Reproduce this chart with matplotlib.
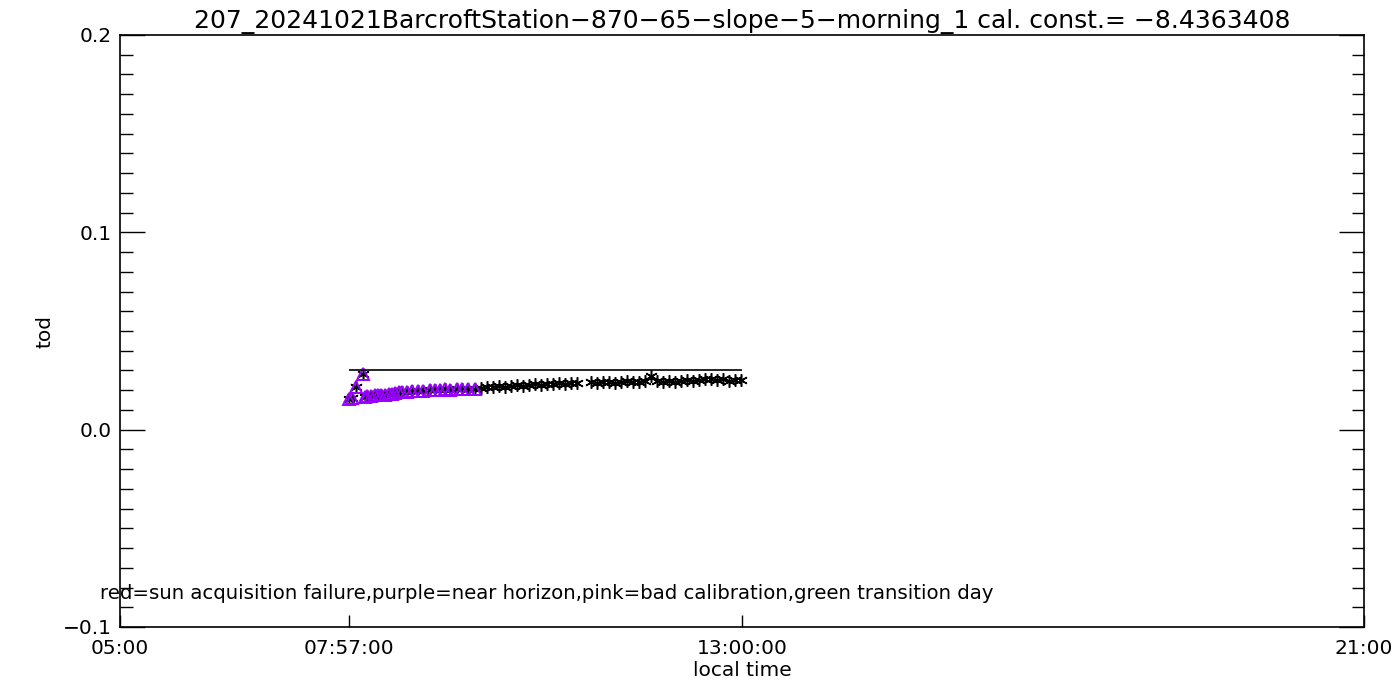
import numpy as np
import matplotlib
matplotlib.use("Agg")
import matplotlib.pyplot as plt
from matplotlib.ticker import MultipleLocator, FixedLocator

title = "207_20241021BarcroftStation\u2212870\u221265\u2212slope\u22125\u2212morning_1 cal. const.= \u22128.4363408"
note = "red=sun acquisition failure,purple=near horizon,pink=bad calibration,green transition day"

# local time in decimal hours, tod values
t_all = [7.945, 7.984, 8.035, 8.125, 8.151, 8.177, 8.228, 8.280, 8.318, 8.357,
         8.408, 8.460, 8.498, 8.537, 8.588, 8.627, 8.691, 8.756, 8.833, 8.897,
         8.987, 9.051, 9.116, 9.180, 9.244, 9.334, 9.399, 9.476, 9.566,
         9.643, 9.720, 9.797, 9.875, 9.952, 10.029, 10.106, 10.183, 10.260, 10.338,
         10.415, 10.492, 10.569, 10.646, 10.723, 10.801, 10.878,
         11.058, 11.135, 11.212, 11.289, 11.367, 11.444, 11.521, 11.598, 11.675, 11.752,
         11.830, 11.907, 11.984, 12.061, 12.138, 12.215, 12.293, 12.370, 12.447, 12.524,
         12.601, 12.678, 12.756, 12.833, 12.910, 12.987]
tod_all = [0.0157, 0.0162, 0.0218, 0.0284, 0.0167, 0.0172, 0.0172, 0.0177, 0.0177, 0.0177,
           0.0177, 0.0182, 0.0182, 0.0187, 0.0193, 0.0193, 0.0193, 0.0198, 0.0198, 0.0198,
           0.0203, 0.0203, 0.0203, 0.0208, 0.0203, 0.0208, 0.0208, 0.0208, 0.0208,
           0.0213, 0.0218, 0.0218, 0.0223, 0.0218, 0.0223, 0.0228, 0.0223, 0.0228, 0.0233,
           0.0228, 0.0233, 0.0233, 0.0236, 0.0233, 0.0236, 0.0236,
           0.0243, 0.0238, 0.0243, 0.0243, 0.0238, 0.0243, 0.0248, 0.0243, 0.0243, 0.0248,
           0.0274, 0.0248, 0.0243, 0.0248, 0.0243, 0.0248, 0.0253, 0.0248, 0.0253, 0.0258,
           0.0258, 0.0253, 0.0258, 0.0248, 0.0253, 0.0253]
n_horizon = 29  # first points flagged near horizon

ref_level = 0.03
xticks = [5.0, 7.95, 13.0, 21.0]
xticklabels = ["05:00", "07:57:00", "13:00:00", "21:00"]
yticks = [-0.1, 0.0, 0.1, 0.2]
yticklabels = ["\u22120.1", "0.0", "0.1", "0.2"]

fig = plt.figure(figsize=(14, 7), dpi=100)
ax = fig.add_axes([120 / 1400, 73 / 700, 1244 / 1400, 592 / 700])

asterisk = (6, 2, 0)
ax.plot(t_all, tod_all, ls="none", marker=asterisk, ms=9, mew=1.1, color="black")
ax.plot(t_all[:n_horizon], tod_all[:n_horizon], ls="none", marker="^", ms=8,
        mfc="none", mec="#9a00ff", mew=1.4)
ax.hlines(ref_level, t_all[0], 13.0, color="black", lw=1.2)

ax.set_xlim(5, 21)
ax.set_ylim(-0.1, 0.2)
ax.xaxis.set_major_locator(FixedLocator(xticks))
ax.set_xticklabels(xticklabels)
ax.set_yticks(yticks)
ax.set_yticklabels(yticklabels)
ax.yaxis.set_minor_locator(MultipleLocator(0.01))
ax.tick_params(axis="x", direction="in", length=9, width=1, labelsize=14.5, pad=9, top=False)
ax.tick_params(axis="y", which="major", direction="in", length=18, width=1, labelsize=14.5,
               right=True, pad=6)
ax.tick_params(axis="y", which="minor", direction="in", length=9, width=1, right=True)
for s in ax.spines.values():
    s.set_linewidth(1.2)

ax.set_title(title, fontsize=18, pad=5)
ax.set_xlabel("local time", fontsize=14.5, labelpad=2)
ax.set_ylabel("tod", fontsize=14.5, labelpad=6)
ax.text(-0.016, 0.057, note, transform=ax.transAxes, fontsize=14.2, va="center",
        ha="left", clip_on=False)

fig.savefig("out.png", dpi=100)
